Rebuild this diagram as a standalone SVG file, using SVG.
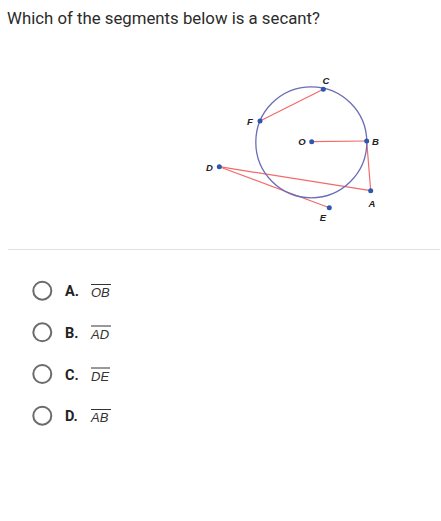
<svg xmlns="http://www.w3.org/2000/svg" width="441" height="521" viewBox="0 0 441 521">
<style>
.seg{stroke:#f26a6a;stroke-width:1.2;fill:none}
.pt{fill:#2f56b0}
.lbl{font-family:"Liberation Sans",Arial,sans-serif;font-size:9.5px;font-weight:bold;font-style:italic;fill:#222}
.opt{fill:none;stroke:#6b6b6b;stroke-width:2}
.key{font-family:Roboto,"Liberation Sans",sans-serif;font-size:14.5px;font-weight:bold;fill:#222}
.ans{font-family:"Liberation Sans",Arial,sans-serif;font-size:13px;font-style:italic;fill:#333}
.ovl{stroke:#333;stroke-width:1}
</style>
<rect width="441" height="521" fill="#fff"/>
<text x="7" y="24" font-family="Roboto,'Liberation Sans',sans-serif" font-size="16.5" textLength="313" lengthAdjust="spacingAndGlyphs" fill="#2b2b2b">Which of the segments below is a secant?</text>
<g id="figure">
<g id="connectors">
<line class="seg" x1="260" y1="121" x2="323.3" y2="89.3"/>
<line class="seg" x1="311.7" y1="141.7" x2="366.7" y2="141"/>
<line class="seg" x1="366.7" y1="141" x2="370.7" y2="190.7"/>
<line class="seg" x1="219.3" y1="166.7" x2="370.7" y2="190.7"/>
<line class="seg" x1="219.3" y1="166.7" x2="329.3" y2="207.7"/>
</g>
<circle id="circle" cx="311.3" cy="142.3" r="55.5" fill="none" stroke="#6a6db8" stroke-width="1.3"/>
<g id="C"><circle class="pt" cx="323.3" cy="89.3" r="2.5"/><text class="lbl" x="326" y="84" text-anchor="middle">C</text></g>
<g id="F"><circle class="pt" cx="260" cy="121" r="2.5"/><text class="lbl" x="250" y="124.5" text-anchor="middle">F</text></g>
<g id="O"><circle class="pt" cx="311.7" cy="141.7" r="2.5"/><text class="lbl" x="302" y="145" text-anchor="middle">O</text></g>
<g id="B"><circle class="pt" cx="366.7" cy="141" r="2.5"/><text class="lbl" x="375.5" y="145" text-anchor="middle">B</text></g>
<g id="D"><circle class="pt" cx="219.3" cy="166.7" r="2.5"/><text class="lbl" x="209.5" y="170.5" text-anchor="middle">D</text></g>
<g id="A"><circle class="pt" cx="370.7" cy="190.7" r="2.5"/><text class="lbl" x="372" y="206.5" text-anchor="middle">A</text></g>
<g id="E"><circle class="pt" cx="329.3" cy="207.7" r="2.5"/><text class="lbl" x="323" y="220.5" text-anchor="middle">E</text></g>
</g>
<line x1="8" y1="249.5" x2="440" y2="249.5" stroke="#e2e2e2" stroke-width="1"/>
<g id="optA"><circle class="opt" cx="42.3" cy="290.7" r="9"/><text class="key" x="65" y="296">A.</text><text class="ans" x="91" y="297">OB</text><line class="ovl" x1="91" y1="284.5" x2="111" y2="284.5"/></g>
<g id="optB"><circle class="opt" cx="42.3" cy="332.3" r="9"/><text class="key" x="65" y="337.5">B.</text><text class="ans" x="91" y="338.5">AD</text><line class="ovl" x1="91" y1="326" x2="111" y2="326"/></g>
<g id="optC"><circle class="opt" cx="42.3" cy="374" r="9"/><text class="key" x="65" y="379.5">C.</text><text class="ans" x="91" y="380.5">DE</text><line class="ovl" x1="91" y1="368" x2="110" y2="368"/></g>
<g id="optD"><circle class="opt" cx="42.3" cy="415.7" r="9"/><text class="key" x="65" y="421">D.</text><text class="ans" x="91" y="422">AB</text><line class="ovl" x1="91" y1="409.5" x2="111" y2="409.5"/></g>
</svg>
